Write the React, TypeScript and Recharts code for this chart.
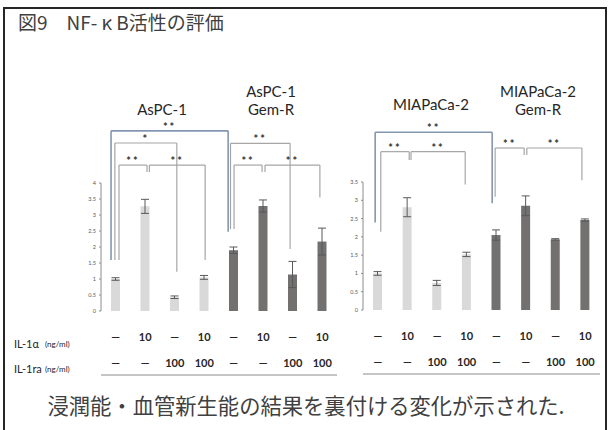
import React from 'react';
import { BarChart, Bar, XAxis, YAxis, Cell, ErrorBar, ReferenceLine } from 'recharts';

// conditions under each bar (IL-1α / IL-1ra, ng/ml)
const il1aRow = ['—', '10', '—', '10', '—', '10', '—', '10'];
const il1raRow = ['—', '—', '100', '100', '—', '—', '100', '100'];

// relative NF-κB activity
const aspcValues = [1.0, 3.27, 0.43, 1.05, 1.9, 3.28, 1.14, 2.17];
const aspcErrors = [0.04, 0.22, 0.04, 0.06, 0.1, 0.19, 0.41, 0.42];
const miaValues = [1.0, 2.81, 0.74, 1.52, 2.05, 2.85, 1.93, 2.46];
const miaErrors = [0.05, 0.26, 0.07, 0.06, 0.14, 0.27, 0.02, 0.03];

const aspcTicks = [0, 0.5, 1, 1.5, 2, 2.5, 3, 3.5, 4];
const miaTicks = [0, 0.5, 1, 1.5, 2, 2.5, 3, 3.5];
const boundaryTicks = [0, 1, 2, 3, 4, 5, 6, 7, 8];

// significance brackets: [x1, x2, y, left drop, right drop, label, blue]
type Bracket = [number, number, number, number, number, string, boolean];
const aspcBrackets: Bracket[] = [
  [0.34, 4.31, 5.63, 1.59, 2.48, '**', true],
  [0.47, 2.57, 5.25, 1.59, 1.23, '*', false],
  [0.61, 1.56, 4.56, 1.59, 4.34, '**', false],
  [1.64, 3.53, 4.56, 4.34, 1.59, '**', false],
  [4.39, 6.41, 5.24, 2.56, 1.94, '**', false],
  [4.51, 5.46, 4.56, 2.56, 4.34, '**', false],
  [5.56, 7.42, 4.56, 4.34, 3.55, '**', false],
];
const miaBrackets: Bracket[] = [
  [0.41, 4.36, 4.86, 2.39, 2.92, '**', true],
  [0.6, 1.56, 4.33, 2.14, 4.1, '**', false],
  [1.62, 3.45, 4.33, 4.1, 3.43, '**', false],
  [4.46, 5.44, 4.43, 3.1, 4.24, '**', false],
  [5.53, 7.39, 4.43, 4.24, 3.55, '**', false],
];

const LATIN = 'Lato, "Noto Sans CJK JP", sans-serif';
const JP = '"Noto Sans CJK JP", sans-serif';
const LIGHT = '#d9d9d9';
const DARK = '#737070';

const RowTick = (props: any) => {
  const { x, y, index } = props;
  const common = { x, textAnchor: 'middle' as const, fontFamily: LATIN, fontSize: 11, fontWeight: 700, fill: '#262626', dominantBaseline: 'central' as const };
  return (
    <g>
      <text {...common} y={y + 25}>{il1aRow[index]}</text>
      <text {...common} y={y + 51}>{il1raRow[index]}</text>
    </g>
  );
};

function bracketLines(b: Bracket, i: number) {
  const [x1, x2, y, yl, yr, label, blue] = b;
  const common = {
    xAxisId: 'n',
    stroke: blue ? '#8497b0' : '#a6a6a6',
    strokeWidth: blue ? 1.6 : 1.2,
    ifOverflow: 'visible' as const,
  };
  return [
    <ReferenceLine
      key={`h${i}`}
      {...common}
      segment={[{ x: x1, y }, { x: x2, y }]}
      label={{ value: label, position: 'top', offset: 0, fill: '#333333', fontSize: 11, fontWeight: 700, letterSpacing: 2, fontFamily: LATIN }}
    />,
    <ReferenceLine key={`l${i}`} {...common} segment={[{ x: x1, y }, { x: x1, y: yl }]} />,
    <ReferenceLine key={`r${i}`} {...common} segment={[{ x: x2, y }, { x: x2, y: yr }]} />,
  ];
}

interface PanelProps {
  values: number[];
  errors: number[];
  ticks: number[];
  brackets: Bracket[];
  margin: { top: number; right: number; bottom: number; left: number };
}

function Panel({ values, errors, ticks, brackets, margin }: PanelProps) {
  // pos = centre of each category slot on the 0..8 numeric axis used for brackets
  const data = values.map((v, i) => ({ cond: `${il1aRow[i]}/${il1raRow[i]}`, pos: i + 0.5, v, err: errors[i] }));
  return (
    <div style={{ position: 'absolute', left: 0, top: 0 }}>
      <BarChart width={608} height={430} data={data} margin={margin}>
        <XAxis
          xAxisId="n"
          dataKey="pos"
          type="number"
          domain={[0, 8]}
          allowDataOverflow
          ticks={boundaryTicks}
          tick={false}
          tickSize={3}
          height={6}
          stroke="#8c8c8c"
        />
        <XAxis
          xAxisId="c"
          dataKey="cond"
          axisLine={false}
          tickLine={false}
          tickSize={0}
          tickMargin={0}
          interval={0}
          height={64}
          tick={<RowTick />}
        />
        <YAxis
          domain={[0, ticks[ticks.length - 1]]}
          ticks={ticks}
          width={24}
          tickSize={2}
          tickMargin={3}
          stroke="#8c8c8c"
          tick={{ fontSize: 5.5, fill: '#595959', fontFamily: LATIN }}
        />
        <Bar xAxisId="c" dataKey="v" barSize={9} isAnimationActive={false}>
          {data.map((_, i) => (
            <Cell key={i} fill={i < 4 ? LIGHT : DARK} />
          ))}
          <ErrorBar dataKey="err" width={4} stroke="#595959" strokeWidth={1} direction="y" />
        </Bar>
        {brackets.flatMap((b, i) => bracketLines(b, i))}
      </BarChart>
    </div>
  );
}

const label = (text: string, x: number, y: number, size = 15) => (
  <div
    style={{
      position: 'absolute',
      left: x,
      top: y,
      transform: 'translate(-50%, -50%)',
      fontFamily: LATIN,
      fontSize: size,
      color: '#262626',
      whiteSpace: 'nowrap',
      lineHeight: 1,
    }}
  >
    {text}
  </div>
);

export default function App() {
  return (
    <div style={{ position: 'absolute', left: 0, top: 0, width: 608, height: 430, overflow: 'hidden', background: '#fff' }}>
      <div style={{ position: 'absolute', left: 3, top: 7, width: 600, height: 440, border: '2px solid #262626' }} />
      <div style={{ position: 'absolute', left: 18, top: 11, fontFamily: JP, fontSize: 19, color: '#404040', lineHeight: 1.2, whiteSpace: 'nowrap' }}>
        図9　NF- κ B活性の評価
      </div>

      {label('AsPC-1', 162, 109)}
      {label('AsPC-1', 271, 91)}
      {label('Gem-R', 271, 109)}
      {label('MIAPaCa-2', 431, 104)}
      {label('MIAPaCa-2', 538, 91)}
      {label('Gem-R', 538, 109)}

      <Panel
        values={aspcValues}
        errors={aspcErrors}
        ticks={aspcTicks}
        brackets={aspcBrackets}
        margin={{ top: 183, right: 271, bottom: 49, left: 77 }}
      />
      <Panel
        values={miaValues}
        errors={miaErrors}
        ticks={miaTicks}
        brackets={miaBrackets}
        margin={{ top: 182, right: 8, bottom: 50, left: 339 }}
      />

      <div style={{ position: 'absolute', left: 14, top: 337, fontFamily: LATIN, fontSize: 11, color: '#262626', whiteSpace: 'nowrap' }}>
        IL-1α<span style={{ position: 'absolute', left: 31, top: 2, fontSize: 8 }}>(ng/ml)</span>
      </div>
      <div style={{ position: 'absolute', left: 14, top: 362, fontFamily: LATIN, fontSize: 11, color: '#262626', whiteSpace: 'nowrap' }}>
        IL-1ra<span style={{ position: 'absolute', left: 31, top: 2, fontSize: 8 }}>(ng/ml)</span>
      </div>

      <div style={{ position: 'absolute', left: 306, top: 405, transform: 'translate(-50%, -50%)', fontFamily: JP, fontSize: 21.3, color: '#404040', whiteSpace: 'nowrap', lineHeight: 1 }}>
        浸潤能・血管新生能の結果を裏付ける変化が示された.
      </div>
    </div>
  );
}
